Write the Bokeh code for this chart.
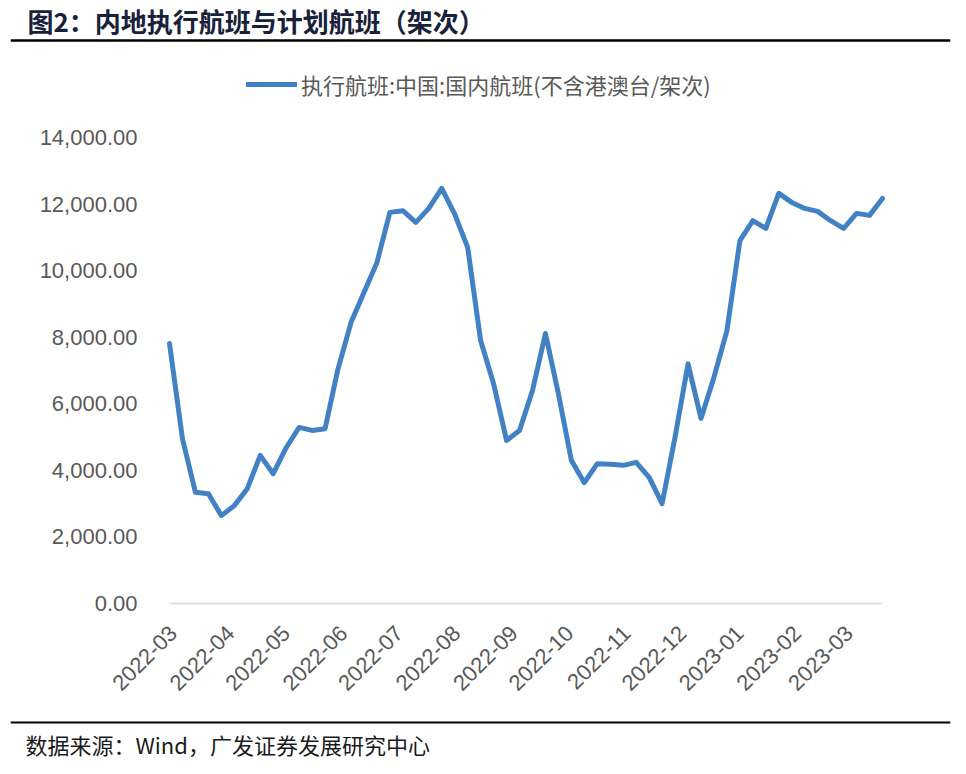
import math
import pandas as pd
from bokeh.plotting import figure
from bokeh.models import (Range1d, FixedTicker, NumeralTickFormatter, DatetimeTickFormatter,
                          Legend, LegendItem, Span, Label)
from bokeh.embed import file_html
from bokeh.resources import INLINE

# ---------------- data ----------------
dates = ["2022-02-27", "2022-03-06", "2022-03-13", "2022-03-20", "2022-03-27", "2022-04-03",
         "2022-04-10", "2022-04-17", "2022-04-24", "2022-05-01", "2022-05-08", "2022-05-15",
         "2022-05-22", "2022-05-29", "2022-06-05", "2022-06-12", "2022-06-19", "2022-06-26",
         "2022-07-03", "2022-07-10", "2022-07-17", "2022-07-24", "2022-07-31", "2022-08-07",
         "2022-08-14", "2022-08-21", "2022-08-28", "2022-09-04", "2022-09-11", "2022-09-18",
         "2022-09-25", "2022-10-02", "2022-10-09", "2022-10-16", "2022-10-23", "2022-10-30",
         "2022-11-06", "2022-11-13", "2022-11-20", "2022-11-27", "2022-12-04", "2022-12-11",
         "2022-12-18", "2022-12-25", "2023-01-01", "2023-01-08", "2023-01-15", "2023-01-22",
         "2023-01-29", "2023-02-05", "2023-02-12", "2023-02-19", "2023-02-26", "2023-03-05",
         "2023-03-12", "2023-03-19"]
flights = [7810, 4950, 3340, 3300, 2640, 2940, 3450, 4450, 3900, 4680, 5290, 5200,
           5250, 7050, 8440, 9340, 10240, 11750, 11800, 11450, 11870, 12470, 11700, 10700,
           7900, 6600, 4900, 5200, 6400, 8110, 6300, 4300, 3630, 4200, 4180, 4150,
           4240, 3790, 3000, 5000, 7200, 5560, 6800, 8200, 10900, 11500, 11270, 12320,
           12050, 11870, 11780, 11500, 11270, 11720, 11660, 12170]
month_ticks = ["2022-03-01", "2022-04-01", "2022-05-01", "2022-06-01", "2022-07-01",
               "2022-08-01", "2022-09-01", "2022-10-01", "2022-11-01", "2022-12-01",
               "2023-01-01", "2023-02-01", "2023-03-01"]
y_ticks = [0, 2000, 4000, 6000, 8000, 10000, 12000, 14000]
series_name = "执行航班:中国:国内航班(不含港澳台/架次)"
title_text = "图2：内地执行航班与计划航班（架次）"
source_text = "数据来源：Wind，广发证券发展研究中心"

x = pd.to_datetime(dates)
tick_ms = [pd.Timestamp(d).value // 10**6 for d in month_ticks]

LATIN = "Liberation Sans, Noto Sans CJK SC, sans-serif"
CJK = "Noto Sans CJK SC, Liberation Sans, sans-serif"
LINE_COLOR = "#4282C4"

# ---------------- layout geometry (pixels) ----------------
W, H = 960, 772
FL, FR, FT, FB = 10, 950, 0, 760          # frame edges
PX_X0, PX_X1 = 169, 882                   # where first / last data point sit
PX_Y0, PX_YTOP = 603, 137                 # pixel rows of y=0 and y=14000
ppu = (PX_Y0 - PX_YTOP) / y_ticks[-1]     # pixels per flight
span_days = (x[-1] - x[0]).days
ppd = (PX_X1 - PX_X0) / span_days         # pixels per day

x_start = x[0] - pd.Timedelta(days=(PX_X0 - FL) / ppd)
x_end = x[-1] + pd.Timedelta(days=(FR - PX_X1) / ppd)
y_start = (PX_Y0 - FB) / ppu
y_end = (PX_Y0 - FT) / ppu


def row(py):
    """pixel row -> y value in data space (for decorations only)"""
    return (PX_Y0 - py) / ppu


p = figure(width=W, height=H, x_axis_type="datetime",
           x_range=Range1d(x_start, x_end), y_range=Range1d(y_start, y_end),
           toolbar_location=None, output_backend="svg",
           min_border_left=FL, min_border_right=W - FR,
           min_border_top=FT, min_border_bottom=H - FB)
p.outline_line_color = None
p.grid.visible = False
p.background_fill_color = "white"
p.border_fill_color = "white"

# zero line of the value axis
p.segment(x0=[x[0]], y0=[y_ticks[0]], x1=[x[-1]], y1=[y_ticks[0]],
          line_color="#D9D9D9", line_width=1.5)

r = p.line(x, flights, line_width=5, line_color=LINE_COLOR,
           line_join="round", line_cap="round")

# ---- y axis: labels pulled into the chart area ----
ya = p.yaxis[0]
ya.ticker = FixedTicker(ticks=y_ticks)
ya.formatter = NumeralTickFormatter(format="0,0.00")
ya.axis_line_color = None
ya.major_tick_line_color = None
ya.minor_tick_line_color = None
ya.major_tick_out = 0
ya.major_tick_in = 0
ya.major_label_standoff = FL - 137
ya.major_label_text_font = LATIN
ya.major_label_text_font_size = "22px"
ya.major_label_text_color = "#595959"
ya.axis_label = " "
ya.axis_label_text_font_size = "10px"
ya.axis_label_standoff = 20

# ---- x axis: labels pulled up under the zero line ----
xa = p.xaxis[0]
xa.ticker = FixedTicker(ticks=tick_ms)
fmt = "%Y-%m"
xa.formatter = DatetimeTickFormatter(milliseconds=fmt, seconds=fmt, minsec=fmt, minutes=fmt,
                                     hourmin=fmt, hours=fmt, days=fmt, months=fmt, years=fmt)
xa.major_label_orientation = math.pi / 4
xa.axis_line_color = None
xa.major_tick_line_color = None
xa.minor_tick_line_color = None
xa.major_tick_out = 0
xa.major_tick_in = 0
xa.major_label_standoff = 629 - FB
xa.major_label_text_font = LATIN
xa.major_label_text_font_size = "22px"
xa.major_label_text_color = "#595959"
xa.axis_label = " "
xa.axis_label_text_font_size = "10px"
xa.axis_label_standoff = 50

# ---- legend ----
legend = Legend(items=[LegendItem(label=series_name, renderers=[r])],
                location=(246 - FL, FB - 100), orientation="horizontal",
                border_line_alpha=0, background_fill_alpha=0, padding=0, margin=0, spacing=0,
                glyph_width=51, glyph_height=22, label_height=22, label_standoff=4,
                label_text_font=CJK, label_text_font_size="22px", label_text_color="#595959")
p.add_layout(legend)

# ---- header / footer ----
p.add_layout(Span(location=row(40), dimension="width", line_color="black", line_width=2.5))
p.add_layout(Span(location=row(722), dimension="width", line_color="black", line_width=2))
p.add_layout(Label(x=27 - FL, y=FB - 20, x_units="screen", y_units="screen", text=title_text,
                   text_font=CJK, text_font_size="26px", text_font_style="bold",
                   text_color="#17213A", text_baseline="middle"))
p.add_layout(Label(x=25 - FL, y=FB - 743, x_units="screen", y_units="screen", text=source_text,
                   text_font=CJK, text_font_size="22px", text_color="#1A1A1A",
                   text_baseline="middle"))

open("out.html", "w").write(file_html(p, INLINE))
